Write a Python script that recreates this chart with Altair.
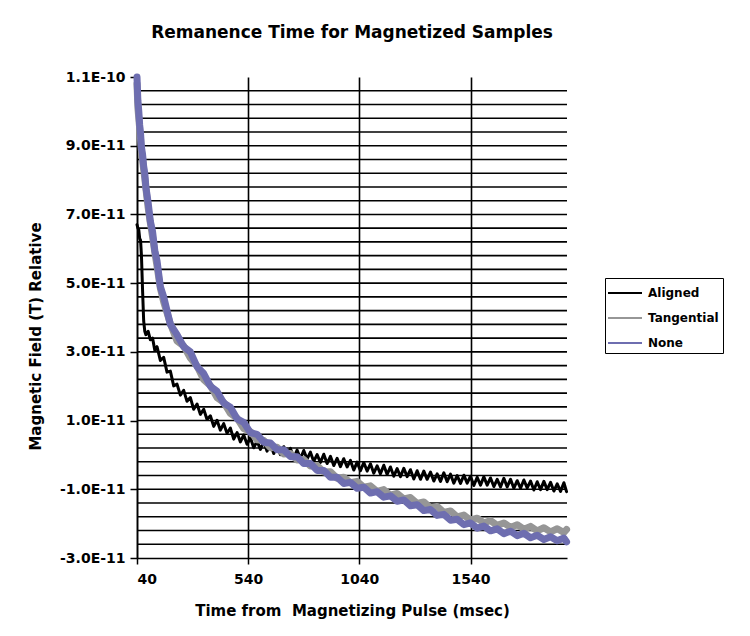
import altair as alt
import pandas as pd

# time axis (msec) for the Tangential and None series
T = [40, 44, 48, 52, 56, 60, 65, 70, 75, 80, 90, 100, 110, 120, 130, 145, 160,
     190, 220, 250, 280, 310, 340, 370, 400, 430, 460, 490, 520, 550, 580, 610,
     640, 670, 700, 730, 760, 790, 820, 850, 880, 910, 940, 970, 1000, 1030, 1060,
     1090, 1120, 1150, 1180, 1210, 1240, 1270, 1300, 1330, 1360, 1390, 1420, 1450,
     1480, 1510, 1540, 1570, 1600, 1630, 1660, 1690, 1720, 1750, 1780, 1810, 1840,
     1870, 1900, 1930, 1960, 1972]

# time axis (msec) for the Aligned series (its noise is read at a finer step)
T_aligned = [40, 44, 48, 52, 56, 60, 65, 70, 75, 80, 90, 100, 110, 120, 130, 145,
             160, 175, 190, 205, 220, 235, 250, 265, 280, 295, 310, 325, 340, 355, 370, 385,
             400, 415, 430, 445, 460, 475, 490, 505, 520, 535, 550, 565, 580, 595, 610, 625,
             640, 655, 670, 685, 700, 715, 730, 745, 760, 775, 790, 805, 820, 835, 850, 865,
             880, 895, 910, 925, 940, 955, 970, 985, 1000, 1015, 1030, 1045, 1060, 1075, 1090,
             1105, 1120, 1135, 1150, 1165, 1180, 1195, 1210, 1225, 1240, 1255, 1270, 1285,
             1300, 1315, 1330, 1345, 1360, 1375, 1390, 1405, 1420, 1435, 1450, 1465, 1480,
             1495, 1510, 1525, 1540, 1555, 1570, 1585, 1600, 1615, 1630, 1645, 1660, 1675,
             1690, 1705, 1720, 1735, 1750, 1765, 1780, 1795, 1810, 1825, 1840, 1855, 1870,
             1885, 1900, 1915, 1930, 1945, 1960, 1972]

# values in units of 1E-11 T
aligned = [6.7, 6.6, 6.55, 6.3, 6.25, 5.8, 4.8, 3.9, 3.6, 3.5, 3.6, 3.35, 3.4, 3.05, 3.15, 2.75,
           2.84, 2.41, 2.44, 2.01, 2.06, 1.74, 1.88, 1.56, 1.67, 1.33, 1.48, 1.18, 1.33, 1.03, 1.14, 0.83,
           1.01, 0.72, 0.91, 0.63, 0.78, 0.46, 0.65, 0.38, 0.58, 0.31, 0.50, 0.21, 0.40, 0.16, 0.39, 0.11,
           0.32, 0.04, 0.25, 0.01, 0.24, 0.00, 0.19, -0.09, 0.14, -0.11, 0.13, -0.12, 0.08, -0.19, 0.01, -0.22,
           0.02, -0.25, -0.04, -0.31, -0.10, -0.34, -0.11, -0.35, -0.16, -0.44, -0.21, -0.46, -0.22, -0.47, -0.26,
           -0.53, -0.32, -0.55, -0.30, -0.57, -0.35, -0.62, -0.40, -0.63, -0.39, -0.63, -0.43, -0.70,
           -0.46, -0.71, -0.47, -0.71, -0.50, -0.76, -0.55, -0.77, -0.52, -0.78, -0.56, -0.82, -0.60,
           -0.83, -0.59, -0.82, -0.62, -0.89, -0.65, -0.88, -0.64, -0.88, -0.67, -0.92, -0.71, -0.93,
           -0.68, -0.93, -0.71, -0.97, -0.75, -0.97, -0.73, -0.96, -0.76, -1.02, -0.78, -1.01, -0.77,
           -1.01, -0.80, -1.05, -0.84, -1.06, -0.81, -1.07]

tangential = [10.8, 10.1, 9.8, 9.5, 9.2, 8.85, 8.6, 8.3, 8.05, 7.75, 7.2, 6.75, 6.35, 5.9, 5.5, 4.85, 4.45,
              3.82, 3.32, 3.17, 2.82, 2.59, 2.19, 2.02, 1.67, 1.53, 1.21, 1.07, 0.77, 0.68, 0.44, 0.42,
              0.21, 0.22, 0.03, 0.04, -0.15, -0.13, -0.32, -0.31, -0.50, -0.49, -0.68, -0.65, -0.81, -0.77, -0.94,
              -0.90, -1.06, -1.01, -1.17, -1.12, -1.28, -1.24, -1.41, -1.37, -1.54, -1.50, -1.67, -1.63,
              -1.80, -1.75, -1.90, -1.84, -1.98, -1.91, -2.05, -1.98, -2.11, -2.03, -2.16, -2.08, -2.21,
              -2.12, -2.24, -2.15, -2.26, -2.17]

none_ = [11.0, 10.3, 10.0, 9.6, 9.35, 8.95, 8.75, 8.4, 8.2, 7.8, 7.35, 6.8, 6.5, 5.95, 5.65, 4.9, 4.6,
         3.80, 3.50, 3.15, 3.00, 2.57, 2.37, 2.00, 1.85, 1.51, 1.39, 1.05, 0.95, 0.65, 0.60, 0.37,
         0.35, 0.15, 0.15, -0.05, -0.05, -0.25, -0.25, -0.45, -0.45, -0.65, -0.65, -0.83, -0.80, -0.97, -0.94,
         -1.11, -1.07, -1.23, -1.19, -1.35, -1.31, -1.48, -1.45, -1.62, -1.59, -1.76, -1.73, -1.90,
         -1.87, -2.03, -1.98, -2.13, -2.07, -2.21, -2.15, -2.29, -2.22, -2.35, -2.28, -2.41, -2.34,
         -2.46, -2.38, -2.50, -2.42, -2.53]

series_names = ["Aligned", "Tangential", "None"]
series_colors = ["#000000", "#969696", "#6e6eb0"]
series_widths = [3, 7, 7]

y_label_values = [-3, -1, 1, 3, 5, 7, 9, 11]
y_grid_values = [-2.6, -2.2, -1.8, -1.4, -1.0, -0.6, -0.2, 0.2, 0.6, 1.0, 1.4, 1.8, 2.2,
                 2.6, 3.0, 3.4, 3.8, 4.2, 4.6, 5.0, 5.4, 5.8, 6.2, 6.6, 7.0, 7.4, 7.8,
                 8.2, 8.6, 9.0, 9.4, 9.8, 10.2, 10.6]
x_tick_values = [40, 540, 1040, 1540]

rows = []
for name, times, vals in zip(series_names, [T_aligned, T, T], [aligned, tangential, none_]):
    for t, v in zip(times, vals):
        rows.append({"t": t, "v": v, "series": name})
df = pd.DataFrame(rows)
grid_df = pd.DataFrame({"g": y_grid_values})

FONT = "DejaVu Sans"
xscale = alt.Scale(domain=[40, 1974], nice=False, zero=False)
yscale = alt.Scale(domain=[-3, 11], nice=False, zero=False)

y_axis = alt.Axis(
    values=y_label_values,
    labelExpr="datum.value == 11 ? '1.1E-10' : replace(format(datum.value, '.1f'), '\u2212', '-') + 'E-11'",
    grid=False, domainColor="black", domainWidth=1.5, tickColor="black", tickWidth=1.5,
    tickSize=7, labelPadding=5, labelFont=FONT, labelFontWeight="bold", labelFontSize=14,
    labelColor="black", title="Magnetic Field (T) Relative", titleFont=FONT,
    titleFontWeight="bold", titleFontSize=15, titleColor="black", titleX=-102, titleY=259,
    titleBaseline="middle", titleAngle=270,
)
x_axis = alt.Axis(
    values=x_tick_values, format="d", grid=True, gridColor="black", gridWidth=1.6, gridOpacity=1,
    domainColor="black", domainWidth=1.5, tickColor="black", tickWidth=1.5, tickSize=6,
    labelPadding=8, labelFont=FONT, labelFontWeight="bold", labelFontSize=14, labelColor="black",
    title="Time from\u00a0 Magnetizing Pulse (msec)", titleFont=FONT, titleFontWeight="bold",
    titleFontSize=15, titleColor="black", titlePadding=17,
)

legend = alt.Legend(
    title=None, orient="none", legendX=468, legendY=201,
    strokeColor="black", fillColor="white", padding=4,
    symbolType="M-1.2,0H2.2", symbolSize=400, symbolStrokeWidth=2,
    labelOffset=17, rowPadding=8, labelFont=FONT, labelFontWeight="bold",
    labelFontSize=12, labelColor="black",
)

grid = alt.Chart(grid_df).mark_rule(color="black", strokeWidth=1.6).encode(
    y=alt.Y("g:Q", scale=yscale, axis=y_axis)
)

base = alt.Chart(df).encode(
    x=alt.X("t:Q", scale=xscale, axis=x_axis),
    y=alt.Y("v:Q", scale=yscale, axis=y_axis),
    color=alt.Color(
        "series:N",
        scale=alt.Scale(domain=series_names, range=series_colors),
        sort=series_names,
        legend=legend,
    ),
)

series_layers = [
    base.transform_filter(alt.datum.series == name).mark_line(
        strokeWidth=w, strokeJoin="round", strokeCap="round"
    )
    for name, w in zip(series_names, series_widths)
]

chart = alt.layer(grid, *series_layers).properties(
    width=430,
    height=481,
    title=alt.TitleParams(
        "Remanence Time for Magnetized Samples", font=FONT, fontSize=17, fontWeight="bold",
        anchor="middle", frame="group", offset=11, baseline="bottom", color="black",
    ),
    autosize=alt.AutoSizeParams(type="none"),
    padding={"left": 129, "top": 69, "right": 165, "bottom": 62},
).configure_view(stroke=None)

chart.save("out.html", embed_options={"renderer": "svg", "actions": False})
